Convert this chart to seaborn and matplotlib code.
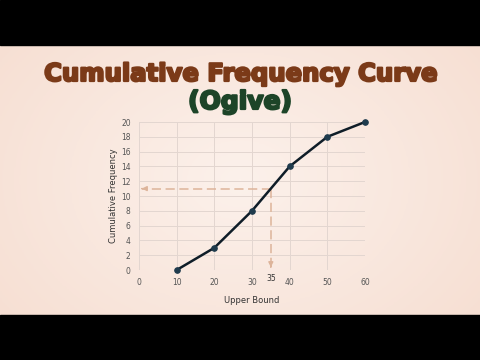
import numpy as np
import pandas as pd
import seaborn as sns
import matplotlib.pyplot as plt
import matplotlib.patheffects as pe
from matplotlib.patches import Rectangle

# Data
upper_bound = [10, 20, 30, 40, 50, 60]
cum_freq = [0, 3, 8, 14, 18, 20]
x_ticks = [0, 10, 20, 30, 40, 50, 60]
y_ticks = [0, 2, 4, 6, 8, 10, 12, 14, 16, 18, 20]
median_x = 35
median_y = 11

df = pd.DataFrame({"Upper Bound": upper_bound, "Cumulative Frequency": cum_freq})

sns.set_style("white")
plt.rcParams["font.family"] = ["DejaVu Sans"]

bg = "#f9e8df"
fig = plt.figure(figsize=(4.8, 3.6), dpi=100, facecolor=bg)

# soft gradient background
bgax = fig.add_axes([0, 0, 1, 1], zorder=-2)
gx = np.linspace(-1, 1, 200)
gy = np.linspace(-1, 1, 150)
GX, GY = np.meshgrid(gx, gy)
grad = np.sqrt(GX ** 2 + GY ** 2)
bgax.imshow(grad, cmap=sns.blend_palette(["#fcf1eb", "#f6ddd0"], as_cmap=True),
            aspect="auto", extent=[0, 1, 0, 1])
bgax.axis("off")

# black letterbox bars
fig.patches.append(Rectangle((0, 1 - 45 / 360), 1, 45 / 360, transform=fig.transFigure,
                             color="black", zorder=5))
fig.patches.append(Rectangle((0, 0), 1, 45 / 360, transform=fig.transFigure,
                             color="black", zorder=5))

brown = "#7b3a18"
green = "#1d4428"
fig.text(0.5, 1 - 74 / 360, "Cumulative Frequency Curve", ha="center", va="center",
         fontsize=17.5, fontweight="bold", color=brown,
         path_effects=[pe.withStroke(linewidth=1.6, foreground=brown)])
fig.text(0.5, 1 - 102 / 360, "(Ogive)", ha="center", va="center",
         fontsize=18, fontweight="bold", color=green,
         path_effects=[pe.withStroke(linewidth=1.6, foreground=green)])

ax = fig.add_axes([139 / 480, 1 - 270 / 360, 226 / 480, 148 / 360])
ax.set_facecolor("none")

dash_col = "#ddb49a"
ax.plot([median_x, 0.8], [median_y, median_y], ls=(0, (6, 3)), color=dash_col, lw=1.1, zorder=1)
ax.plot([median_x, median_x], [median_y, 0.4], ls=(0, (6, 3)), color=dash_col, lw=1.1, zorder=1)
ax.annotate("", xy=(0, median_y), xytext=(1.5, median_y),
            arrowprops=dict(arrowstyle="-|>", color=dash_col, lw=1, mutation_scale=7))
ax.annotate("", xy=(median_x, 0), xytext=(median_x, 0.8),
            arrowprops=dict(arrowstyle="-|>", color=dash_col, lw=1, mutation_scale=7))

sns.lineplot(data=df, x="Upper Bound", y="Cumulative Frequency", ax=ax,
             color="#0f1d28", lw=1.8, marker="o", markersize=4,
             markerfacecolor="#1f3b4d", markeredgecolor="#1f3b4d", clip_on=False, zorder=3)

ax.set_xlim(0, 60)
ax.set_ylim(0, 20)
ax.set_xticks(x_ticks)
ax.set_yticks(y_ticks)
ax.grid(True, color="#e3d6d0", lw=0.7)
for s in ax.spines.values():
    s.set_visible(False)
ax.tick_params(axis="both", length=0, labelsize=5.5, colors="#555555", pad=6)
ax.set_xlabel("Upper Bound", fontsize=6, color="#333333", labelpad=6)
ax.set_ylabel("Cumulative Frequency", fontsize=6, color="#333333", labelpad=2)
ax.text(median_x, -0.5, "35", ha="center", va="top", fontsize=5.5, color="#333333")

fig.savefig("out.png", dpi=100, facecolor=bg)
